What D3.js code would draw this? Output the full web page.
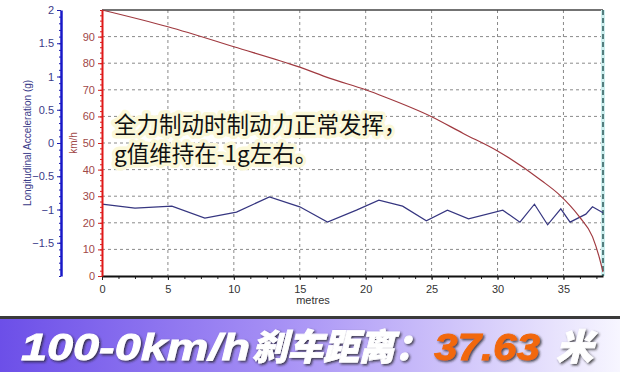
<!DOCTYPE html>
<html lang="zh">
<head>
<meta charset="UTF-8">
<title>100-0km/h 刹车</title>
<style>
  body { margin: 0; background: #fff; }
  svg { display: block; }
  .tick text { font-family: "Liberation Sans", Arial, sans-serif; font-size: 11px; }
</style>
</head>
<body>
<svg width="620" height="372"></svg>
<script src="https://d3js.org/d3.v7.min.js"></script>
<script>
// speed trace (metres, km/h)
const speedDist = [0, 5, 10, 15, 17.3, 20, 21.4, 25, 27.4, 30, 33.3, 34.7, 36.2, 37.2, 37.7, 38];
const speedKmh  = [100, 93.7, 86.2, 78.5, 74.3, 70, 67.4, 59.9, 53.6, 47, 36, 30.5, 22.3, 14.8, 7.3, 1.5];

// acceleration trace (metres, g)
const accDist = [0, 2.5, 5.3, 7.8, 10.2, 12.7, 15, 17.1, 19.3, 21, 22.8, 24.6, 26.2, 27.8, 30.4, 31.7, 32.8, 33.8, 34.8, 35.5, 36.7, 37.2, 38];
const accG    = [-0.92, -0.98, -0.95, -1.13, -1.04, -0.81, -0.96, -1.19, -1.01, -0.86, -0.95, -1.17, -1.01, -1.14, -1.01, -1.19, -0.92, -1.23, -0.99, -1.19, -1.07, -0.96, -1.05];

const xTicks = [0, 5, 10, 15, 20, 25, 30, 35];
const speedTicks = [0, 10, 20, 30, 40, 50, 60, 70, 80, 90];
const accTicks = [-1.5, -1, -0.5, 0, 0.5, 1, 1.5, 2];

const note1 = "全力制动时制动力正常发挥，";
const note2 = "g值维持在-1g左右。";
const bannerParts = ["100-0km/h", "刹车距离：", "37.63", "米"];

const svg = d3.select("svg");
const pL = 102, pR = 603, pT = 10, pB = 276;

const x = d3.scaleLinear().domain([0, 38]).range([pL, pR]);
const ySpeed = d3.scaleLinear().domain([0, 100]).range([pB, pT]);
const yAcc = d3.scaleLinear().domain([-2, 2]).range([pB, pT]);

const defs = svg.append("defs");
const grad = defs.append("linearGradient").attr("id", "band");
grad.append("stop").attr("offset", "0%").attr("stop-color", "#6c4fe8");
grad.append("stop").attr("offset", "45%").attr("stop-color", "#a690f5");
grad.append("stop").attr("offset", "100%").attr("stop-color", "#f7f6ff");
const sh = defs.append("filter").attr("id", "sh").attr("x", "-10%").attr("y", "-20%").attr("width", "130%").attr("height", "150%");
sh.append("feDropShadow").attr("dx", 1.5).attr("dy", 1.5).attr("stdDeviation", 1.3)
  .attr("flood-color", "#222").attr("flood-opacity", 0.8);

// grid
svg.append("g").selectAll("line").data(speedTicks.slice(1)).join("line")
  .attr("x1", pL).attr("x2", pR).attr("y1", d => ySpeed(d)).attr("y2", d => ySpeed(d))
  .attr("stroke", "#8a8a8a").attr("stroke-dasharray", "3,3");
svg.append("g").selectAll("line").data(xTicks.slice(1)).join("line")
  .attr("x1", d => x(d)).attr("x2", d => x(d)).attr("y1", pT).attr("y2", pB)
  .attr("stroke", "#8a8a8a").attr("stroke-dasharray", "3,3");

// frame
svg.append("line").attr("x1", pL).attr("x2", pR).attr("y1", pT).attr("y2", pT)
  .attr("stroke", "#444").attr("stroke-width", 1.5);
svg.append("line").attr("x1", pR).attr("x2", pR).attr("y1", pT).attr("y2", pB)
  .attr("stroke", "#cdeeee").attr("stroke-width", 4);
svg.append("line").attr("x1", pR).attr("x2", pR).attr("y1", pT).attr("y2", pB)
  .attr("stroke", "#2d5a5a").attr("stroke-width", 1.5).attr("stroke-dasharray", "5,3");

// annotation
const note = svg.append("text")
  .attr("font-family", "'Noto Sans CJK SC', sans-serif").attr("font-size", 22.5)
  .attr("fill", "#111").attr("stroke", "#fbf8d8").attr("stroke-width", 7)
  .attr("stroke-linejoin", "round").attr("paint-order", "stroke");
note.append("tspan").attr("x", 114).attr("y", 133).text(note1);
note.append("tspan").attr("x", 114).attr("y", 162).text(note2);

// series
svg.append("path")
  .datum(accDist.map((d, i) => [d, accG[i]]))
  .attr("fill", "none").attr("stroke", "#363680").attr("stroke-width", 1.2)
  .attr("d", d3.line().x(d => x(d[0])).y(d => yAcc(d[1])));
svg.append("path")
  .datum(speedDist.map((d, i) => [d, speedKmh[i]]))
  .attr("fill", "none").attr("stroke", "#a03a40").attr("stroke-width", 1.2)
  .attr("d", d3.line().curve(d3.curveMonotoneX).x(d => x(d[0])).y(d => ySpeed(d[1])));

// x axis
const xMinor = d3.range(0, 38.01, 1.25);
svg.append("g").attr("transform", `translate(0,${pB})`)
  .call(d3.axisBottom(x).tickValues(xMinor).tickSize(3).tickFormat(""))
  .call(g => g.select(".domain").remove())
  .call(g => g.selectAll("line").attr("stroke", "#222"));
svg.append("g").attr("transform", `translate(0,${pB})`)
  .call(d3.axisBottom(x).tickValues(xTicks).tickSize(4).tickSizeOuter(0))
  .call(g => g.select(".domain").attr("stroke", "#111").attr("stroke-width", 2))
  .call(g => g.selectAll("line").attr("stroke", "#222"))
  .call(g => g.selectAll("text").attr("fill", "#333").attr("dy", "0.9em"));
svg.append("text").attr("x", 313).attr("y", 304).attr("text-anchor", "middle")
  .attr("font-family", "'Liberation Sans', Arial, sans-serif").attr("font-size", 11)
  .attr("fill", "#333").text("metres");

// speed axis
svg.append("g").attr("transform", `translate(${pL},0)`)
  .call(d3.axisLeft(ySpeed).tickValues(d3.range(0, 100.1, 2)).tickSize(2).tickFormat(""))
  .call(g => g.select(".domain").remove())
  .call(g => g.selectAll("line").attr("stroke", "#d42020"));
svg.append("g").attr("transform", `translate(${pL},0)`)
  .call(d3.axisLeft(ySpeed).tickValues(speedTicks).tickSize(4).tickSizeOuter(0).tickPadding(3))
  .call(g => g.select(".domain").attr("stroke", "#e01818").attr("stroke-width", 2))
  .call(g => g.selectAll("line").attr("stroke", "#d42020"))
  .call(g => g.selectAll("text").attr("fill", "#a04848"));
svg.append("text").attr("transform", `translate(77,${yAcc(0)}) rotate(-90)`)
  .attr("text-anchor", "middle").attr("font-family", "'Liberation Sans', Arial, sans-serif")
  .attr("font-size", 10).attr("fill", "#a04848").text("km/h");

// acceleration axis
const accX = 61;
svg.append("g").attr("transform", `translate(${accX},0)`)
  .call(d3.axisLeft(yAcc).tickValues(d3.range(-20, 21, 1).map(d => d / 10)).tickSize(2).tickFormat(""))
  .call(g => g.select(".domain").remove())
  .call(g => g.selectAll("line").attr("stroke", "#1c1cb0"));
svg.append("g").attr("transform", `translate(${accX},0)`)
  .call(d3.axisLeft(yAcc).tickValues(accTicks).tickSize(4).tickSizeOuter(0).tickPadding(3)
    .tickFormat(d3.format("~g")))
  .call(g => g.select(".domain").attr("stroke", "#1818c8").attr("stroke-width", 2.5))
  .call(g => g.selectAll("line").attr("stroke", "#1c1cb0"))
  .call(g => g.selectAll("text").attr("fill", "#3a3a88"));
svg.append("text").attr("transform", `translate(31,${yAcc(0)}) rotate(-90)`)
  .attr("text-anchor", "middle").attr("font-family", "'Liberation Sans', Arial, sans-serif")
  .attr("font-size", 10).attr("fill", "#3a3a88").text("Longitudinal Acceleration (g)");

// bottom banner
svg.append("rect").attr("x", 0).attr("y", 316).attr("width", 620).attr("height", 3).attr("fill", "#3a3a3a");
svg.append("rect").attr("x", 0).attr("y", 319).attr("width", 620).attr("height", 53).attr("fill", "url(#band)");
const bannerLayout = [
  { x: 21, len: 229, fill: "#fff", font: "'Liberation Sans', sans-serif" },
  { x: 252, len: 178, fill: "#fff", font: "'Noto Sans CJK SC', sans-serif" },
  { x: 434, len: 106, fill: "#f26810", font: "'Liberation Sans', sans-serif" },
  { x: 556, len: 37, fill: "#fff", font: "'Noto Sans CJK SC', sans-serif" }
];
svg.append("g").attr("filter", "url(#sh)")
  .selectAll("text").data(bannerParts).join("text")
  .attr("x", (d, i) => bannerLayout[i].x).attr("y", 360)
  .attr("textLength", (d, i) => bannerLayout[i].len).attr("lengthAdjust", "spacingAndGlyphs")
  .attr("font-family", (d, i) => bannerLayout[i].font)
  .attr("font-size", (d, i) => i % 2 ? 36 : 37).attr("font-weight", 900)
  .attr("font-style", "italic").attr("fill", (d, i) => bannerLayout[i].fill)
  .attr("stroke", (d, i) => bannerLayout[i].fill).attr("stroke-width", 0.8)
  .text(d => d);
</script>
</body>
</html>
